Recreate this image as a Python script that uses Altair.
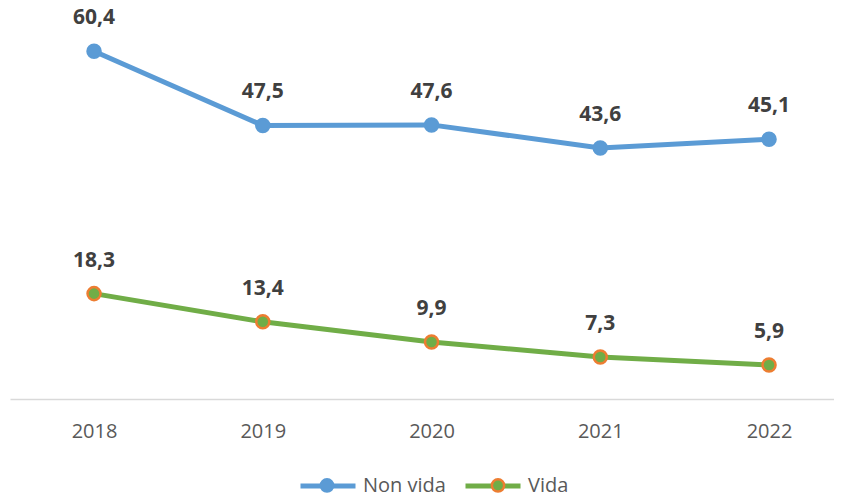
import altair as alt
import pandas as pd

years = [2018, 2019, 2020, 2021, 2022]
non_vida = [60.4, 47.5, 47.6, 43.6, 45.1]
vida = [18.3, 13.4, 9.9, 7.3, 5.9]
series = ["Non vida", "Vida"]

rows = []
for name, vals in zip(series, [non_vida, vida]):
    for yr, v in zip(years, vals):
        rows.append({"year": yr, "value": v, "series": name,
                     "label": f"{v:.1f}".replace(".", ",")})
df = pd.DataFrame(rows)

BLUE = "#5B9BD5"
GREEN = "#70AD47"
ORANGE = "#ED7D31"
FONT = "Open Sans"

x = alt.X("year:Q",
          scale=alt.Scale(domain=[2017.502, 2022.385], nice=False, zero=False),
          axis=alt.Axis(values=years, format="d", title=None, grid=False, ticks=False,
                        domainColor="#d9d9d9", domainWidth=1.5, labelFontSize=20,
                        labelColor="#595959", labelFont=FONT, labelPadding=22))
y = alt.Y("value:Q", scale=alt.Scale(domain=[0, 67.9], nice=False), axis=None)

LX = 288

line = alt.Chart(df).mark_line(strokeWidth=5).encode(
    x=x, y=y,
    color=alt.Color("series:N",
                    scale=alt.Scale(domain=series, range=[BLUE, GREEN]),
                    legend=alt.Legend(title=None, orient="none", direction="horizontal",
                                      legendX=LX, legendY=448, symbolType="stroke",
                                      symbolSize=3025, symbolStrokeWidth=5,
                                      labelFont=FONT, labelFontSize=20, labelColor="#595959",
                                      labelOffset=5, columnPadding=9)),
    detail="series:N",
)

pleg = alt.Legend(title=None, orient="none", direction="horizontal",
                  legendX=LX + 19, legendY=467, symbolType="circle",
                  symbolSize=150, symbolStrokeWidth=2.5, symbolOpacity=1,
                  labelFont=FONT, labelFontSize=20, labelOpacity=0,
                  labelOffset=48, columnPadding=18)

points = alt.Chart(df).mark_point(filled=True, size=170, strokeWidth=2.5, opacity=1).encode(
    x=x, y=y,
    fill=alt.Fill("series:N", scale=alt.Scale(domain=series, range=[BLUE, GREEN]), legend=pleg),
    stroke=alt.Stroke("series:N", scale=alt.Scale(domain=series, range=[BLUE, ORANGE]), legend=pleg),
)

labels = alt.Chart(df).mark_text(dy=-33, fontSize=21, fontWeight="bold", font=FONT,
                                 color="#404040", baseline="middle").encode(
    x=x, y=y, text="label:N")

chart = alt.layer(line, points, labels).properties(
    width=824, height=391,
    autosize=alt.AutoSizeParams(type="none"),
    padding={"left": 2, "top": 0, "right": 0, "bottom": 95},
).configure_view(stroke=None).resolve_legend(color="independent", fill="independent", stroke="independent")

chart.save("out.html", embed_options={"renderer": "svg", "actions": False})
